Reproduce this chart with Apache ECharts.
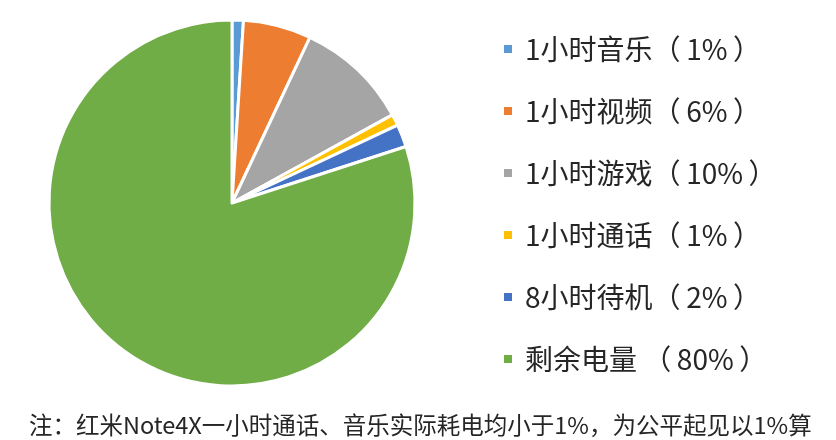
<!DOCTYPE html>
<html><head><meta charset="utf-8">
<script src="https://cdn.jsdelivr.net/npm/echarts@6/dist/echarts.min.js"></script>
<style>html,body{margin:0;padding:0;background:#fff}#c{width:836px;height:440px}</style>
</head><body><div id="c"></div>
<script>
const categories = ['1小时音乐（1%）','1小时视频（6%）','1小时游戏（10%）','1小时通话（1%）','8小时待机（2%）','剩余电量 （80%）'];
const values = [1, 6, 10, 1, 2, 80];
const colors = ['#5B9BD5','#ED7D31','#A5A5A5','#FFC000','#4472C4','#70AD47'];
const note = '注：红米Note4X一小时通话、音乐实际耗电均小于1%，为公平起见以1%算';

const chart = echarts.init(document.getElementById('c'), null, {renderer:'canvas'});
chart.setOption({
  animation:false,
  color: colors,
  title:{text:note,left:24,top:408,textStyle:{fontSize:23.5,fontWeight:'normal',color:'#262626',fontFamily:'Noto Sans CJK SC'}},
  legend:{orient:'vertical',left:497,top:30,itemWidth:10,itemHeight:10,itemGap:34,icon:'rect',
    formatter:n=>n.replace('（','（\u2009').replace('）','\u2009）'),
    textStyle:{fontSize:28,color:'#262626',fontFamily:'Noto Sans CJK SC',padding:[0,0,0,7]},
    data:categories},
  series:[{type:'pie',center:[232,203],radius:[0,183],startAngle:90,clockwise:true,
    label:{show:false},labelLine:{show:false},
    itemStyle:{borderColor:'#fff',borderWidth:3},
    data:categories.map((n,i)=>({name:n,value:values[i]}))}]
});
</script></body></html>
